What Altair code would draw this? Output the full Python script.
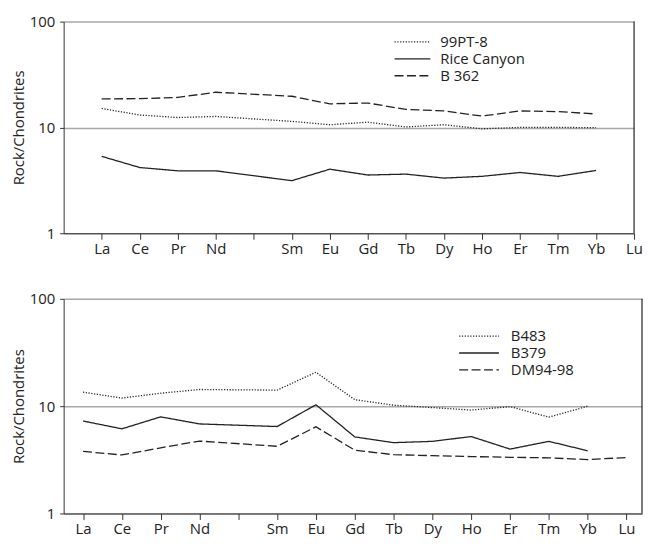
import altair as alt
import pandas as pd

# REE order (Pm has a tick but no label and no data)
elements = ["La", "Ce", "Pr", "Nd", "Pm", "Sm", "Eu", "Gd", "Tb", "Dy", "Ho", "Er", "Tm", "Yb", "Lu"]
tick_labels = ["La", "Ce", "Pr", "Nd", "", "Sm", "Eu", "Gd", "Tb", "Dy", "Ho", "Er", "Tm", "Yb", "Lu"]

# top panel
top_names = ["99PT-8", "Rice Canyon", "B 362"]
s_99pt8 = [15.1, 13.1, 12.4, 12.7, None, 11.4, 10.6, 11.2, 10.1, 10.6, 9.7, 10.0, 10.0, 9.95, None]
s_rice = [5.33, 4.18, 3.89, 3.89, None, 3.14, 4.03, 3.55, 3.62, 3.32, 3.45, 3.75, 3.45, 3.92, None]
s_b362 = [18.6, 18.7, 19.2, 21.5, None, 19.7, 16.7, 17.0, 14.8, 14.3, 12.8, 14.3, 14.1, 13.4, None]

# bottom panel
bot_names = ["B483", "B379", "DM94-98"]
s_b483 = [13.5, 11.9, 13.2, 14.3, None, 14.1, 20.7, 11.5, 10.2, 9.7, 9.2, 9.9, 7.9, 10.0, None]
s_b379 = [7.27, 6.15, 7.95, 6.83, None, 6.46, 10.3, 5.17, 4.57, 4.70, 5.21, 3.98, 4.70, 3.84, None]
s_dm = [3.79, 3.51, 4.09, 4.73, None, 4.23, 6.42, 3.89, 3.53, 3.46, 3.39, 3.34, 3.30, 3.18, 3.32]

dot = [1.2, 1.6]
solid = [1, 0]
dash = [9, 3.5]

FONT = "Open Sans"
INK = "#222222"


def long_df(names, series):
    rows = []
    for name, vals in zip(names, series):
        for i, v in enumerate(vals):
            if v is not None:
                rows.append({"x": i + 1, "el": elements[i], "v": v, "sample": name})
    return pd.DataFrame(rows)


label_expr = "[" + ",".join(["''"] + ["'%s'" % t for t in tick_labels]) + "][datum.value]"


def panel(df, names, dashes, xdom, w, h, lx, ly, sym, loff):
    lines = alt.Chart(df).mark_line(color=INK, strokeWidth=1.3).encode(
        x=alt.X("x:Q",
                scale=alt.Scale(domain=xdom, nice=False, zero=False),
                axis=alt.Axis(values=list(range(1, 16)), labelExpr=label_expr, title=None,
                              grid=False, tickSize=6, labelPadding=2, domainColor="#333",
                              tickColor="#333", labelFlush=False, labelOverlap=False)),
        y=alt.Y("v:Q",
                scale=alt.Scale(type="log", domain=[1, 100], nice=False),
                axis=alt.Axis(values=[1, 10, 100], format="d", title="Rock/Chondrites",
                              grid=True, gridColor="#a8a8a8", gridWidth=1.5, tickSize=4,
                              labelPadding=5, titlePadding=3, domainColor="#333",
                              tickColor="#333")),
        strokeDash=alt.StrokeDash("sample:N",
                                  scale=alt.Scale(domain=names, range=dashes),
                                  legend=alt.Legend(title=None, orient="none", legendX=lx, legendY=ly,
                                                    symbolSize=sym * sym, symbolType="stroke",
                                                    symbolStrokeColor=INK, symbolStrokeWidth=1.3,
                                                    labelFont=FONT, labelFontSize=15, labelColor=INK,
                                                    clipHeight=15, rowPadding=1, labelOffset=loff,
                                                    labelLimit=300, padding=0)),
    )
    border = alt.Chart(pd.DataFrame({"x": [xdom[1]]})).mark_rule(color="#333", strokeWidth=1.3).encode(
        x="x:Q", y=alt.datum(1), y2=alt.datum(100)
    )
    return alt.layer(lines, border).properties(width=w, height=h)


top = panel(long_df(top_names, [s_99pt8, s_rice, s_b362]), top_names, [dot, solid, dash],
            [0, 15], 574, 213, 332, 13, 36, 9)
bottom = panel(long_df(bot_names, [s_b483, s_b379, s_dm]), bot_names, [dot, solid, dash],
               [0.5, 15.4], 582, 216, 397, 30, 40, 11)

chart = alt.vconcat(top, bottom, spacing=36).resolve_scale(
    strokeDash="independent"
).resolve_legend(
    strokeDash="independent"
).properties(
    padding={"left": 3, "top": 5, "right": 0, "bottom": 0}
).configure_view(stroke=None).configure_axis(
    labelFont=FONT, labelFontSize=15, labelColor=INK,
    titleFont=FONT, titleFontSize=15, titleFontWeight="normal", titleColor=INK
).configure_legend(labelFont=FONT)

chart.save("out.html", embed_options={"renderer": "svg", "actions": False})
